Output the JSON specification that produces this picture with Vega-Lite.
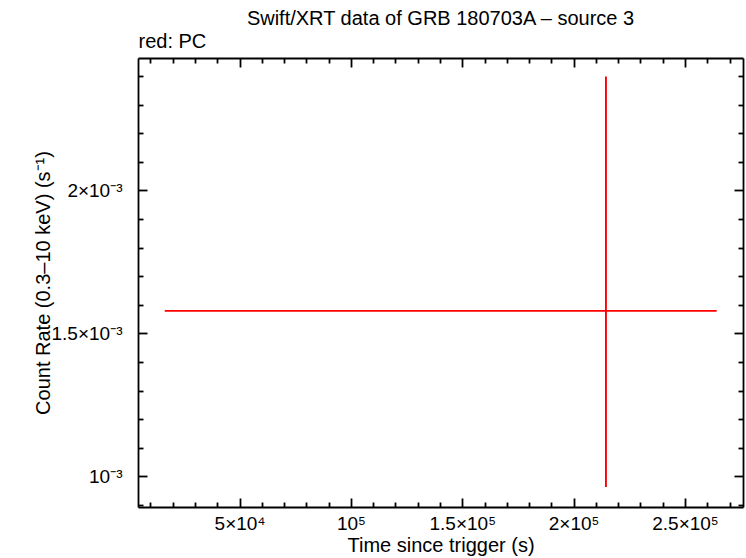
{
  "$schema": "https://vega.github.io/schema/vega-lite/v6.json",
  "width": 605,
  "height": 449,
  "autosize": "none",
  "padding": {"left": 138, "top": 58, "right": 3, "bottom": 51},
  "background": "white",
  "config": {
    "view": {"stroke": null},
    "font": "Liberation Sans",
    "axis": {"grid": false, "domainColor": "black", "domainWidth": 1.8, "tickColor": "black", "tickWidth": 1.8, "labelColor": "black", "titleColor": "black", "titleFontWeight": "normal", "labelFont": "Liberation Sans", "titleFont": "Liberation Sans"}
  },
  "title": {"text": "Swift/XRT data of GRB 180703A – source 3", "fontSize": 20, "fontWeight": "normal", "font": "Liberation Sans", "anchor": "middle", "offset": 2, "color": "black"},
  "data": {"values": [
    {"t": 214510, "tmin": 16400, "tmax": 264240, "rate": 0.001579, "rlo": 0.000963, "rhi": 0.002398}
  ]},
  "layer": [
    {
      "mark": {"type": "rule", "color": "#ff0000", "strokeWidth": 1.7},
      "encoding": {
        "x": {"field": "tmin", "type": "quantitative", "scale": {"domain": [4400, 276050], "nice": false, "zero": false},
          "axis": {"orient": "bottom", "title": "Time since trigger (s)", "titleFontSize": 20, "titlePadding": 2, "labelFontSize": 19, "labelPadding": 16,
            "values": [10000,20000,30000,40000,50000,60000,70000,80000,90000,100000,110000,120000,130000,140000,150000,160000,170000,180000,190000,200000,210000,220000,230000,240000,250000,260000,270000],
            "tickSize": {"condition": {"test": "datum.value % 50000 == 0", "value": -9}, "value": -5},
            "labelExpr": "datum.value == 50000 ? '5×10⁴' : datum.value == 100000 ? '10⁵' : datum.value == 150000 ? '1.5×10⁵' : datum.value == 200000 ? '2×10⁵' : datum.value == 250000 ? '2.5×10⁵' : ''"}},
        "x2": {"field": "tmax"},
        "y": {"field": "rate", "type": "quantitative", "scale": {"domain": [0.000893, 0.002463], "nice": false, "zero": false},
          "axis": {"orient": "left", "title": "Count Rate (0.3–10 keV) (s⁻¹)", "titleFontSize": 20, "titleX": -95, "titleY": 224.5, "titleAngle": -90, "titleAlign": "center", "titleBaseline": "middle", "labelFontSize": 19, "labelPadding": 25,
            "values": [0.0009,0.001,0.0011,0.0012,0.0013,0.0014,0.0015,0.0016,0.0017,0.0018,0.0019,0.002,0.0021,0.0022,0.0023,0.0024],
            "tickSize": {"condition": {"test": "round(datum.value*10000) % 5 == 0", "value": -9}, "value": -5},
            "labelExpr": "round(datum.value*10000) == 10 ? '10⁻³' : round(datum.value*10000) == 15 ? '1.5×10⁻³' : round(datum.value*10000) == 20 ? '2×10⁻³' : ''"}}
      }
    },
    {
      "mark": {"type": "rule", "color": "#ff0000", "strokeWidth": 1.9},
      "encoding": {
        "x": {"field": "t", "type": "quantitative",
          "axis": {"orient": "top", "title": "red: PC", "titleFontSize": 20, "titleAnchor": "start", "titleAlign": "left", "titlePadding": 6, "labels": false,
            "values": [10000,20000,30000,40000,50000,60000,70000,80000,90000,100000,110000,120000,130000,140000,150000,160000,170000,180000,190000,200000,210000,220000,230000,240000,250000,260000,270000],
            "tickSize": {"condition": {"test": "datum.value % 50000 == 0", "value": -9}, "value": -5}}},
        "y": {"field": "rlo", "type": "quantitative",
          "axis": {"orient": "right", "title": null, "labels": false,
            "values": [0.0009,0.001,0.0011,0.0012,0.0013,0.0014,0.0015,0.0016,0.0017,0.0018,0.0019,0.002,0.0021,0.0022,0.0023,0.0024],
            "tickSize": {"condition": {"test": "round(datum.value*10000) % 5 == 0", "value": -9}, "value": -5}}},
        "y2": {"field": "rhi"}
      }
    }
  ],
  "resolve": {"axis": {"x": "independent", "y": "independent"}}
}
